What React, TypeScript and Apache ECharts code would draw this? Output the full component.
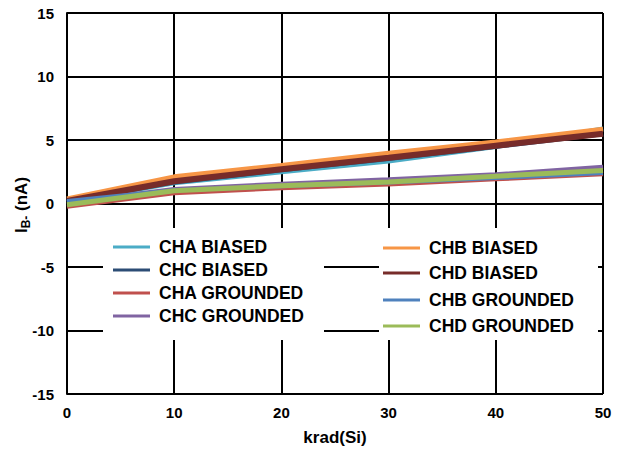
import React, { useEffect, useRef } from "react";
import * as echarts from "echarts";

const xValues = [0, 10, 20, 30, 40, 50];
const chaBiased = [0.1, 1.6, 2.45, 3.3, 4.45, 5.9];
const chcBiased = [0.2, 1.7, 2.65, 3.55, 4.5, 5.5];
const chaGrounded = [-0.25, 0.8, 1.2, 1.5, 1.9, 2.3];
const chcGrounded = [0.1, 1.15, 1.55, 1.9, 2.3, 2.9];
const chbBiased = [0.35, 2.1, 3.0, 3.95, 4.85, 5.85];
const chdBiased = [0.2, 1.75, 2.7, 3.6, 4.55, 5.5];
const chbGrounded = [0.2, 1.05, 1.35, 1.65, 2.0, 2.4];
const chdGrounded = [-0.1, 1.0, 1.4, 1.7, 2.15, 2.6];

const seriesDefs = [
  { name: "CHA BIASED", data: chaBiased, color: "#4BACC6", width: 4 },
  { name: "CHC BIASED", data: chcBiased, color: "#2C4D75", width: 5 },
  { name: "CHA GROUNDED", data: chaGrounded, color: "#C0504D", width: 4 },
  { name: "CHC GROUNDED", data: chcGrounded, color: "#8064A2", width: 4 },
  { name: "CHB BIASED", data: chbBiased, color: "#F79646", width: 5 },
  { name: "CHD BIASED", data: chdBiased, color: "#772C2A", width: 6 },
  { name: "CHB GROUNDED", data: chbGrounded, color: "#4F81BD", width: 4 },
  { name: "CHD GROUNDED", data: chdGrounded, color: "#9BBB59", width: 5 },
];

const legendPos: Record<string, [number, number]> = {
  "CHA BIASED": [113, 247],
  "CHC BIASED": [113, 270],
  "CHA GROUNDED": [113, 293],
  "CHC GROUNDED": [113, 316],
  "CHB BIASED": [383, 248],
  "CHD BIASED": [383, 273],
  "CHB GROUNDED": [383, 300],
  "CHD GROUNDED": [383, 326],
};

const FONT = "'Liberation Sans', Arial, Helvetica, sans-serif";

export default function App() {
  const ref = useRef<HTMLDivElement>(null);
  useEffect(() => {
    if (!ref.current) return;
    const chart = echarts.init(ref.current, undefined, { renderer: "svg" });
    const legends = seriesDefs.map((s) => ({
      data: [s.name],
      left: legendPos[s.name][0],
      top: legendPos[s.name][1] - 9,
      padding: 0,
      itemWidth: 37,
      itemHeight: 3,
      itemGap: 0,
      icon: "rect",
      selectedMode: false,
      textStyle: {
        fontFamily: FONT,
        fontWeight: "bold",
        fontSize: 17.5,
        color: "#000",
        lineHeight: 18,
        padding: [0, 0, 0, 4],
      },
    }));
    chart.setOption({
      animation: false,
      backgroundColor: "#fff",
      grid: { left: 67, right: 24, top: 13, bottom: 59, containLabel: false, outerBoundsMode: "none" },
      graphic: [
        { type: "rect", z: 1, shape: { x: 103, y: 228, width: 221, height: 112 }, style: { fill: "#fff" } },
        { type: "rect", z: 1, shape: { x: 379, y: 228, width: 219, height: 112 }, style: { fill: "#fff" } },
        {
          type: "text",
          z: 5,
          x: 21,
          y: 205,
          rotation: Math.PI / 2,
          style: {
            text: "{i|I}{s|B-}{i| (nA)}",
            align: "center",
            verticalAlign: "middle",
            fill: "#000",
            rich: {
              i: { fontFamily: FONT, fontWeight: "bold", fontSize: 17, fill: "#000" },
              s: { fontFamily: FONT, fontWeight: "bold", fontSize: 12, fill: "#000", padding: [10, 0, 0, 0] },
            },
          },
        },
      ],
      legend: legends,
      xAxis: {
        type: "value",
        min: 0,
        max: 50,
        interval: 10,
        name: "krad(Si)",
        nameLocation: "middle",
        nameGap: 35,
        nameTextStyle: { fontFamily: FONT, fontWeight: "bold", fontSize: 17, color: "#000" },
        axisLine: { show: true, lineStyle: { color: "#000", width: 2 } },
        axisTick: { show: false },
        axisLabel: { fontFamily: FONT, fontWeight: "bold", fontSize: 15, color: "#000", margin: 11 },
        splitLine: { show: true, lineStyle: { color: "#000", width: 2 } },
      },
      yAxis: {
        type: "value",
        min: -15,
        max: 15,
        interval: 5,
        axisLine: { show: true, onZero: false, lineStyle: { color: "#000", width: 2 } },
        axisTick: { show: false },
        axisLabel: { fontFamily: FONT, fontWeight: "bold", fontSize: 15, color: "#000", margin: 13 },
        splitLine: { show: true, lineStyle: { color: "#000", width: 2 } },
      },
      series: seriesDefs.map((s) => ({
        name: s.name,
        type: "line",
        data: xValues.map((x, i) => [x, s.data[i]]),
        symbol: "none",
        color: s.color,
        lineStyle: { color: s.color, width: s.width },
        z: 3,
      })),
    });
    return () => chart.dispose();
  }, []);
  return (
    <div
      ref={ref}
      style={{ position: "fixed", left: 0, top: 0, width: 627, height: 453 }}
    />
  );
}
